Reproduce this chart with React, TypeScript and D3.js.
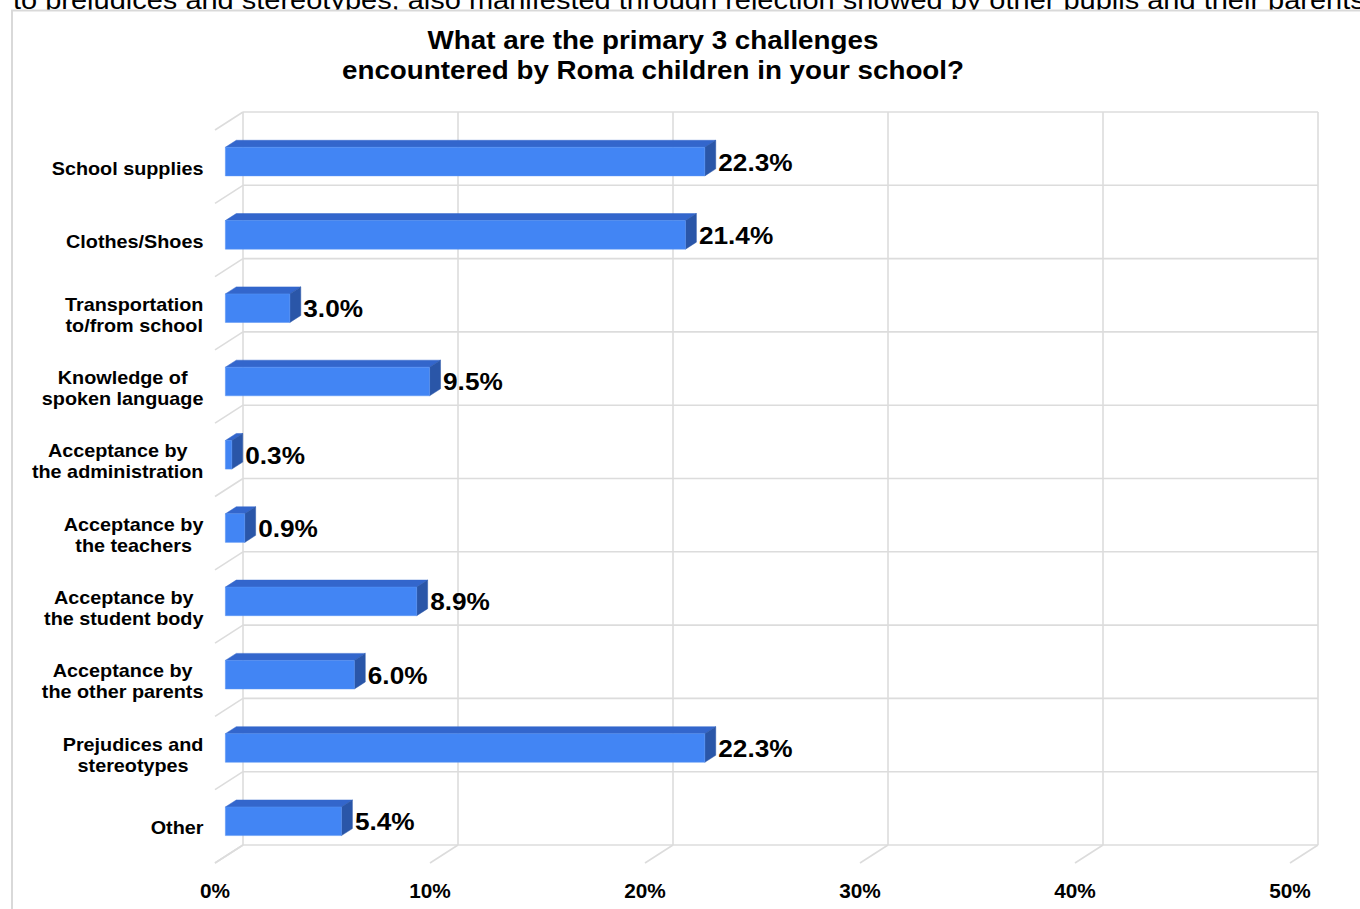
import React from "react";
import * as d3 from "d3";

const categories: string[][] = [
  ["School supplies"],
  ["Clothes/Shoes"],
  ["Transportation", "to/from school"],
  ["Knowledge of", "spoken language"],
  ["Acceptance by", "the administration"],
  ["Acceptance by", "the teachers"],
  ["Acceptance by", "the student body"],
  ["Acceptance by", "the other parents"],
  ["Prejudices and", "stereotypes"],
  ["Other"],
];
const values: number[] = [22.3, 21.4, 3.0, 9.5, 0.3, 0.9, 8.9, 6.0, 22.3, 5.4];
const ticks: number[] = [0, 10, 20, 30, 40, 50];
const titleLines: string[] = [
  "What are the primary 3 challenges",
  "encountered by Roma children in your school?",
];
const topText =
  "to prejudices and stereotypes, also manifested through rejection showed by other pupils and their parents";

const FONT = "'Liberation Sans', Arial, Helvetica, sans-serif";
const W = 1360;
const H = 909;

// 3D geometry
const DX = 28;
const DY = -18;
const ZF = 0.37;
const ZB = 0.76;
const SX = 1.09;

function measure(text: string, font: string): number {
  const c = document.createElement("canvas");
  const ctx = c.getContext("2d")!;
  ctx.font = font;
  return ctx.measureText(text).width;
}

export default function App() {
  const keys = categories.map((c) => c.join(" "));
  const x = d3.scaleLinear().domain([0, 50]).range([215, 1290]);
  const y = d3.scaleBand<string>().domain(keys).range([130, 863]);
  const step = y.step();
  const thick = step * 0.39;

  const P = (v: number, yy: number, z: number): [number, number] => [x(v) + z * DX, yy + z * DY];
  const poly = (pts: [number, number][]) => pts.map((p) => p.join(",")).join(" ");

  const catFont = `bold 18px ${FONT}`;
  const grid = "#dcdcdc";

  const boundaries = d3.range(keys.length + 1).map((i) => 130 + i * step);

  return (
    <svg
      width={W}
      height={H}
      style={{ position: "absolute", left: 0, top: 0, background: "#fff" }}
      fontFamily={FONT}
    >
      <text
        transform={`translate(13,8.5) scale(${SX},1)`}
        fontSize={26.6}
        fill="#000"
      >
        {topText}
      </text>
      <rect x={12} y={10.5} width={1400} height={950} fill="#fff" stroke="#d9d9d9" strokeWidth={2} />

      {titleLines.map((t, i) => (
        <text
          key={i}
          transform={`translate(653,${49 + i * 30}) scale(${SX},1)`}
          textAnchor="middle"
          fontWeight="bold"
          fontSize={25.5}
          fill="#000"
        >
          {t}
        </text>
      ))}

      {/* back wall horizontal gridlines */}
      {boundaries.map((b, i) => {
        const a = P(0, b, 1);
        const e = P(50, b, 1);
        const l = P(0, b, 0);
        return (
          <g key={"h" + i}>
            <line x1={a[0]} y1={a[1]} x2={e[0]} y2={e[1]} stroke={grid} strokeWidth={1.6} />
            <line x1={l[0]} y1={l[1]} x2={a[0]} y2={a[1]} stroke={grid} strokeWidth={1.6} />
          </g>
        );
      })}
      {/* back wall vertical gridlines + floor diagonals */}
      {ticks.map((t) => {
        const top = P(t, 130, 1);
        const bot = P(t, 863, 1);
        const fr = P(t, 863, 0);
        return (
          <g key={"v" + t}>
            <line x1={top[0]} y1={top[1]} x2={bot[0]} y2={bot[1]} stroke={grid} strokeWidth={1.6} />
            <line x1={fr[0]} y1={fr[1]} x2={bot[0]} y2={bot[1]} stroke={grid} strokeWidth={1.6} />
          </g>
        );
      })}

      {/* bars */}
      {keys.map((k, i) => {
        const v = values[i];
        const yc = (y(k) as number) + step / 2 + 1.6;
        const t0 = yc - thick / 2;
        const t1 = yc + thick / 2;
        const front = poly([P(0, t0, ZF), P(v, t0, ZF), P(v, t1, ZF), P(0, t1, ZF)]);
        const topF = poly([P(0, t0, ZF), P(v, t0, ZF), P(v, t0, ZB), P(0, t0, ZB)]);
        const side = poly([P(v, t0, ZF), P(v, t0, ZB), P(v, t1, ZB), P(v, t1, ZF)]);
        const lab = P(v, yc, ZB);
        const fc = P(v, yc, ZF);
        return (
          <g key={"b" + i}>
            <polygon points={topF} fill="#3366cc" stroke="#3366cc" strokeWidth={0.5} />
            <polygon points={side} fill="#2a56a8" stroke="#2a56a8" strokeWidth={0.5} />
            <polygon points={front} fill="#4285f4" stroke="#5b95f5" strokeWidth={0.5} />
            <text
              transform={`translate(${lab[0] + 2.5},${fc[1] + 9}) scale(1.14,1)`}
              fontWeight="bold"
              fontSize={23}
              fill="#000"
            >
              {d3.format(".1f")(v)}%
            </text>
          </g>
        );
      })}

      {/* category labels */}
      {categories.map((lines, i) => {
        const maxW = Math.max(...lines.map((l) => measure(l, catFont))) * 1.1;
        const cx = 203.5 - maxW / 2;
        const yc = (y(keys[i]) as number) + step / 2 + 1.5;
        const n = lines.length;
        return (
          <g key={"c" + i}>
            {lines.map((l, j) => (
              <text
                key={j}
                transform={`translate(${cx},${yc + (j - (n - 1) / 2) * 21 + 6.5}) scale(1.1,1)`}
                textAnchor="middle"
                fontWeight="bold"
                fontSize={18}
                fill="#000"
              >
                {l}
              </text>
            ))}
          </g>
        );
      })}

      {/* tick labels */}
      {ticks.map((t) => (
        <text
          key={"t" + t}
          transform={`translate(${x(t)},898) scale(1.04,1)`}
          textAnchor="middle"
          fontWeight="bold"
          fontSize={20}
          fill="#000"
        >
          {t}%
        </text>
      ))}
    </svg>
  );
}
